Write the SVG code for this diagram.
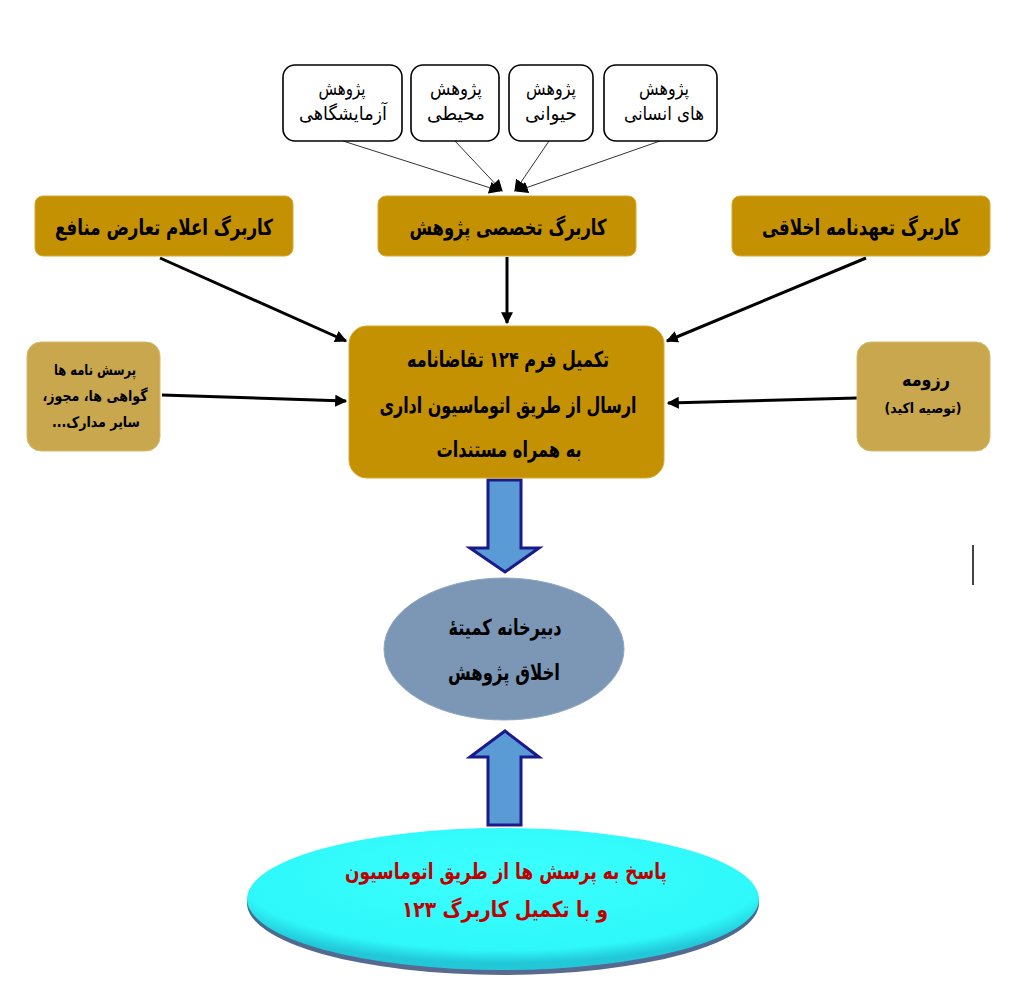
<svg xmlns="http://www.w3.org/2000/svg" width="1023" height="990" viewBox="0 0 1023 990">
<style>
.t{font-family:"DejaVu Sans","Noto Sans",sans-serif;text-anchor:middle;direction:rtl}
.b{font-weight:bold;fill:#000}
.w{fill:#fff;stroke:#000;stroke-width:1.6}
.g{fill:#C49102;stroke:#D8A830;stroke-width:1}
.tan{fill:#C8A74E;stroke:#D6BA6A;stroke-width:1}
.thin{stroke:#333;stroke-width:1;fill:none}
.thick{stroke:#000;stroke-width:3;fill:none}
.blk{fill:#5B9BD5;stroke:#1A1A8C;stroke-width:3;stroke-linejoin:miter}
.red{fill:#C00000}
</style>
<defs>
<marker id="ah" viewBox="0 0 10 10" refX="9" refY="5" markerWidth="4" markerHeight="4" orient="auto" markerUnits="strokeWidth"><path d="M0,0L10,5L0,10z" fill="#000"/></marker>
<marker id="ahs" viewBox="0 0 10 10" refX="9" refY="5" markerWidth="12" markerHeight="12" orient="auto" markerUnits="strokeWidth"><path d="M0,0L10,5L0,10z" fill="#000"/></marker>
<radialGradient id="cy" cx="0.5" cy="0.35" r="0.6">
<stop offset="0" stop-color="#3CFFFF"/><stop offset="0.85" stop-color="#2EF8FA"/><stop offset="1" stop-color="#22C8D8"/>
</radialGradient>
<linearGradient id="rim" x1="0" y1="0" x2="0" y2="1">
<stop offset="0" stop-color="#2A6A90"/><stop offset="1" stop-color="#5A6A90"/>
</linearGradient>
</defs>
<rect width="1023" height="990" fill="#fff"/>

<g id="connectors">
<line class="thin" x1="343" y1="141" x2="500" y2="191" marker-end="url(#ahs)"/>
<line class="thin" x1="455" y1="141" x2="502" y2="191" marker-end="url(#ahs)"/>
<line class="thin" x1="549" y1="141" x2="515" y2="191" marker-end="url(#ahs)"/>
<line class="thin" x1="660" y1="141" x2="517" y2="191" marker-end="url(#ahs)"/>
<line class="thick" x1="160" y1="258" x2="346" y2="341" marker-end="url(#ah)"/>
<line class="thick" x1="507" y1="257" x2="507" y2="323" marker-end="url(#ah)"/>
<line class="thick" x1="866" y1="258" x2="667" y2="341" marker-end="url(#ah)"/>
<line class="thick" x1="162" y1="395" x2="346" y2="401" marker-end="url(#ah)"/>
<line class="thick" x1="857" y1="398" x2="668" y2="403" marker-end="url(#ah)"/>
<path class="blk" d="M488,480H521V548H539L505,572L470,548H488Z"/>
<path class="blk" d="M488,825H521V757H539L505,731L470,757H488Z"/>
</g>

<g id="n-lab"><rect class="w" x="283" y="65" width="119" height="76" rx="12"/>
<text class="t" x="342" y="95" font-size="19" textLength="47" lengthAdjust="spacingAndGlyphs">پژوهش</text><text class="t" x="343" y="120" font-size="19" textLength="88" lengthAdjust="spacingAndGlyphs">آزمایشگاهی</text></g>
<g id="n-env"><rect class="w" x="411" y="65" width="88" height="76" rx="12"/>
<text class="t" x="456" y="95" font-size="19" textLength="52" lengthAdjust="spacingAndGlyphs">پژوهش</text><text class="t" x="456" y="120" font-size="19" textLength="58" lengthAdjust="spacingAndGlyphs">محیطی</text></g>
<g id="n-animal"><rect class="w" x="509" y="65" width="84" height="76" rx="12"/>
<text class="t" x="551" y="95" font-size="19" textLength="50" lengthAdjust="spacingAndGlyphs">پژوهش</text><text class="t" x="551" y="120" font-size="19" textLength="52" lengthAdjust="spacingAndGlyphs">حیوانی</text></g>
<g id="n-human"><rect class="w" x="604" y="65" width="113" height="76" rx="12"/>
<text class="t" x="664" y="95" font-size="19" textLength="50" lengthAdjust="spacingAndGlyphs">پژوهش</text><text class="t" x="664" y="120" font-size="19" textLength="80" lengthAdjust="spacingAndGlyphs">های انسانی</text></g>

<g id="n-coi"><rect class="g" x="35" y="196" width="258" height="60" rx="8"/>
<text class="t b" x="164" y="235" font-size="22" textLength="218" lengthAdjust="spacingAndGlyphs">کاربرگ اعلام تعارض منافع</text></g>
<g id="n-spec"><rect class="g" x="378" y="196" width="258" height="60" rx="8"/>
<text class="t b" x="508" y="235" font-size="22" textLength="197" lengthAdjust="spacingAndGlyphs">کاربرگ تخصصی پژوهش</text></g>
<g id="n-ethic"><rect class="g" x="732" y="196" width="258" height="60" rx="8"/>
<text class="t b" x="861" y="235" font-size="22" textLength="198" lengthAdjust="spacingAndGlyphs">کاربرگ تعهدنامه اخلاقی</text></g>

<g id="n-main"><rect class="g" x="349" y="326" width="315" height="152" rx="18"/>
<text class="t b" x="508" y="367" font-size="22" textLength="202" lengthAdjust="spacingAndGlyphs">تکمیل فرم ۱۲۴ تقاضانامه</text>
<text class="t b" x="508" y="413" font-size="22" textLength="257" lengthAdjust="spacingAndGlyphs">ارسال از طریق اتوماسیون اداری</text>
<text class="t b" x="509" y="457" font-size="22" textLength="145" lengthAdjust="spacingAndGlyphs">به همراه مستندات</text></g>

<g id="n-docs"><rect class="tan" x="27" y="342" width="133" height="109" rx="14"/>
<text class="t b" x="95" y="375" font-size="15" textLength="82" lengthAdjust="spacingAndGlyphs">پرسش نامه ها</text>
<text class="t b" x="95" y="401" font-size="15" textLength="105" lengthAdjust="spacingAndGlyphs">گواهی ها، مجوز،</text>
<text class="t b" x="96" y="427" font-size="15" textLength="88" lengthAdjust="spacingAndGlyphs">سایر مدارک...</text></g>
<g id="n-cv"><rect class="tan" x="857" y="342" width="133" height="109" rx="14"/>
<text class="t b" x="926" y="386" font-size="19" textLength="48" lengthAdjust="spacingAndGlyphs">رزومه</text>
<text class="t b" x="923" y="413" font-size="14" textLength="77" lengthAdjust="spacingAndGlyphs">(توصیه اکید)</text></g>

<g id="n-secretariat"><ellipse cx="504" cy="649" rx="120" ry="71" fill="#7B97B5" stroke="#8FA8C2" stroke-width="1"/>
<text class="t b" x="505" y="635" font-size="22" textLength="113" lengthAdjust="spacingAndGlyphs">دبیرخانه کمیتهٔ</text>
<text class="t b" x="504" y="680" font-size="22" textLength="112" lengthAdjust="spacingAndGlyphs">اخلاق پژوهش</text></g>

<g id="n-reply"><ellipse cx="503" cy="903" rx="256" ry="72" fill="url(#rim)"/>
<ellipse cx="503" cy="899" rx="256" ry="71" fill="url(#cy)"/>
<text class="t b red" x="506" y="879" font-size="22" textLength="322" lengthAdjust="spacingAndGlyphs">پاسخ به پرسش ها از طریق اتوماسیون</text>
<text class="t b red" x="505" y="917" font-size="22" textLength="206" lengthAdjust="spacingAndGlyphs">و با تکمیل کاربرگ ۱۲۳</text></g>

<line x1="973" y1="545" x2="973" y2="585" stroke="#444" stroke-width="2"/>
</svg>
